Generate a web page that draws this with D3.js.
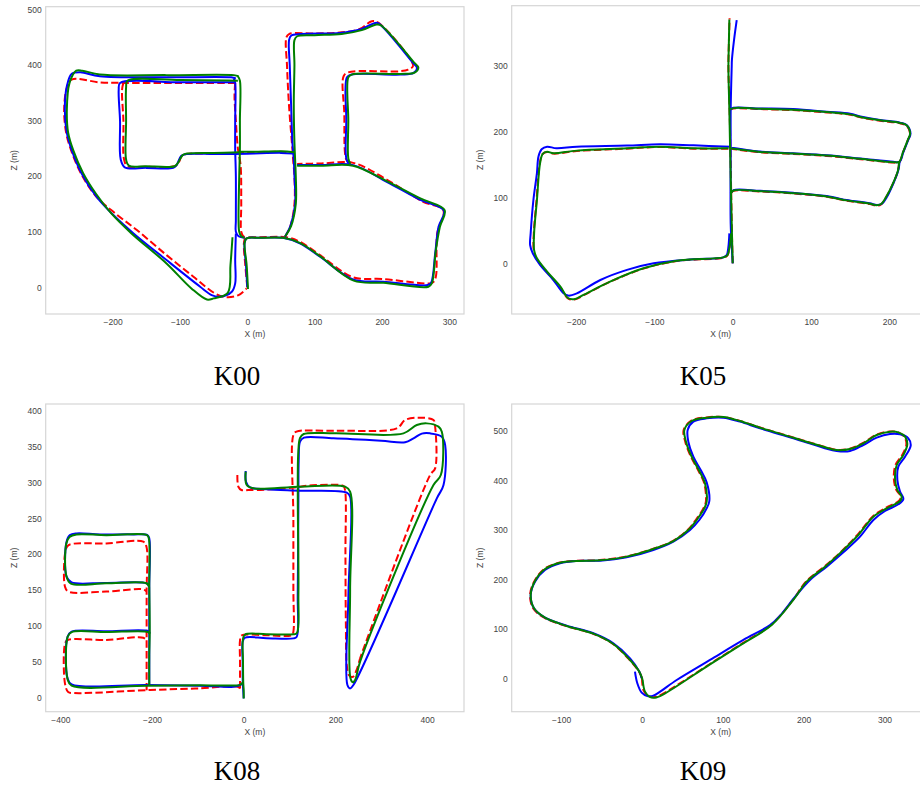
<!DOCTYPE html>
<html>
<head>
<meta charset="utf-8">
<script src="https://cdn.jsdelivr.net/npm/d3@7"></script>
<style>
  body { margin: 0; background: #fff; }
  svg { display: block; }
  .tick text { font-family: "Liberation Sans", Arial, sans-serif; font-size: 8.5px; fill: #444; }
  .axlabel { font-family: "Liberation Sans", Arial, sans-serif; font-size: 8.5px; fill: #444; }
  .title { font-family: "Liberation Serif", "Times New Roman", serif; font-size: 27px; fill: #000; }
</style>
</head>
<body>
<div id="chart"></div>
<script>
// trajectories, [x, z] in metres. red = ground truth (dashed), blue / green = estimates
var k00Red = [
  [[0,0],[-3,40],[-5,80],[-3,88],[20,90],[58,90],[78,82],[108,58],[157,18],[200,15],[271,7],[276,9],[280,19],[282,97],[291,139],[261,154],[207,194],[157,224],[110,223],[74,222]],
  [[56,91],[64,110],[70,150],[70,200],[68,230],[67,248],[62,326],[59,398],[58,450],[62,456],[100,457],[140,459],[167,465],[185,479],[195,476],[244,407],[246,398],[239,392],[227,389],[150,387],[143,380],[144,314],[147,230],[152,224]],
  [[-16,242],[10,243],[50,244],[67,243]],
  [[-18,368],[-19,345],[-17,300],[-14,250],[-10,220],[-9,150],[-9,100],[-6,92],[-2,89]],
  [[-184,368],[-186,356],[-184,300],[-183,230],[-178,218],[-150,217],[-108,218],[-103,222],[-97,237],[-90,240],[-50,241],[-16,242]],
  [[-18,368],[-100,368],[-184,368],[-219,369],[-261,374],[-268,359],[-272,320],[-269,278],[-262,248],[-247,205],[-224,163],[-196,133],[-164,103],[-120,58],[-80,19],[-48,-11],[-31,-18],[-13,-14],[-1,-2]]
];
var k00Blue = [
  [[0,0],[-2,40],[-4,80],[-1,88],[20,89],[53,89],[78,79],[108,55],[157,14],[202,10],[268,4],[273,8],[279,61],[284,109],[292,138],[256,158],[207,190],[157,220],[110,220],[74,220]],
  [[56,91],[64,110],[71,150],[70,200],[69,230],[67,260],[65,330],[63,400],[62,445],[65,453],[80,456],[138,458],[167,464],[190,476],[195,475],[246,404],[252,395],[247,386],[227,383],[155,383],[148,378],[147,300],[147,232],[151,222]],
  [[-18,240],[10,241],[50,242],[68,241]],
  [[-20,376],[-18,368],[-18,300],[-18,250],[-17,200],[-17,120],[-17,100],[-13,92],[-4,89]],
  [[-19,369],[-100,369],[-189,368],[-191,356],[-189,300],[-188,230],[-182,216],[-150,215],[-110,215],[-105,220],[-98,237],[-90,240],[-50,240],[-18,240]],
  [[-17,376],[-24,378],[-120,378],[-219,380],[-248,387],[-261,384],[-268,362],[-271,320],[-268,278],[-261,248],[-246,205],[-224,163],[-199,130],[-169,97],[-120,49],[-70,1],[-53,-14],[-41,-17],[-23,-8],[-18,7],[-18,50],[-17,97]]
];
var k00Green = [
  [[1,-3],[-1,40],[-4,80],[-1,88],[20,89],[53,89],[78,80],[108,56],[158,12],[202,8],[269,1],[274,7],[280,67],[286,109],[293,139],[257,160],[207,191],[157,219],[110,219],[74,219]],
  [[56,91],[65,110],[72,150],[72,200],[71,230],[70,260],[69,330],[70,400],[70,445],[74,452],[100,454],[140,456],[170,463],[192,473],[198,472],[249,403],[254,396],[249,387],[227,384],[155,383],[150,378],[150,300],[150,232],[153,222]],
  [[-11,244],[10,244],[50,245],[70,243]],
  [[-14,380],[-11,372],[-11,300],[-11,250],[-12,200],[-13,120],[-12,100],[-9,92],[-4,89]],
  [[-14,372],[-100,373],[-178,372],[-180,360],[-180,300],[-180,230],[-176,219],[-150,218],[-108,218],[-103,224],[-96,238],[-88,241],[-50,242],[-11,243]],
  [[-13,380],[-20,382],[-120,382],[-219,383],[-245,390],[-254,390],[-264,368],[-268,320],[-266,278],[-258,245],[-244,206],[-224,167],[-202,133],[-172,97],[-120,43],[-83,-2],[-60,-22],[-50,-20],[-29,-10],[-25,40],[-22,90]]
];

var k05Red = [
  [[0,0],[-1,45],[-3,177],[-4,233],[-5.5,298],[-5,330],[-4,372]],
  [[-5.5,174],[-50,174],[-93,176.5],[-135,174],[-199,170.5],[-229,166.5],[-237,169],[-243,165.5],[-246.5,151],[-250.5,96],[-254,45],[-254,20],[-250.5,7],[-237.5,-13],[-220.5,-36],[-210,-53.5],[-201,-54.5],[-190.5,-48.5],[-156.5,-28],[-114,-8],[-71.5,3.5],[-12,8.5],[-7,11.5],[-4,25],[-2,45]],
  [[-4.3,232.5],[0.9,235],[35,234],[77,232.5],[120,229],[150,225.5],[163,221.5],[188,216.5],[213.6,212.5],[222,209],[226.5,196.5],[223.5,186.5],[217.5,168.5],[212.5,153.5],[205,153],[163,158],[120,163],[77,166],[35,168.5],[-3.4,174]],
  [[212.5,153.5],[211,140.5],[204.5,120.5],[196,100.5],[189.5,89.5],[183.5,87.5],[175,90],[154,93.5],[145,95],[120,101],[77,106],[35,109],[1,110],[-2.6,105.5]]
];
var k05Blue = [
  [[0,0],[-1,20],[-2.6,60],[-2.6,177],[-2.6,233],[-1.3,298],[-1,309],[1.7,339],[5.1,369]],
  [[-2.6,177],[-50,179],[-93,180.6],[-135,178.6],[-199,177],[-225,174.5],[-237,177],[-244,173],[-248,162],[-250,137],[-254.5,96],[-258,45.5],[-258.7,27.8],[-255.3,15.2],[-246,-2.5],[-229,-25.3],[-216,-45.5],[-210,-49],[-199,-45.5],[-169,-25.3],[-135,-10],[-101,0],[-50,6],[-12,9],[-7.7,12.6],[-5.5,25.3],[-4.3,45.5]],
  [[-3.4,233],[0.9,236],[35,235],[77,234],[120,230],[150,227],[163,223],[188,217.5],[213.6,213.5],[222,210],[227,197],[224,187],[218,169],[213,154],[205,154],[163,159],[120,164],[77,167],[35,169.5],[-1.3,175.5]],
  [[213,154],[211.5,141.6],[205,121],[197,101],[190,90],[184,88.5],[175,91],[154,94.6],[145.5,96],[120,102],[77,107],[35,110],[1,111],[-2.6,106]]
];
var k05Green = [
  [[0,0],[-1,45.5],[-3.4,177],[-4.3,233],[-5.5,298],[-5,330],[-4.3,370]],
  [[-5.5,174.5],[-50,174.5],[-93,177],[-135,174.5],[-199,171],[-229,167],[-237,169.4],[-242.6,166],[-246,151.7],[-250,96],[-253.6,45.5],[-253.6,20],[-250,7.6],[-237,-12.6],[-220,-35.4],[-210,-53],[-201,-54],[-190.6,-48],[-156.6,-27.8],[-114,-7.6],[-71.5,4],[-12,9],[-7,12],[-4,25],[-2,45.5]],
  [[-4.3,233],[0.9,235.5],[35,234.5],[77,233],[120,229.5],[150,226],[163,222],[188,217],[213.6,213],[222,209.5],[226.5,197],[223.5,187],[217.5,169],[212.5,154],[205,153.5],[163,158.5],[120,163.5],[77,166.5],[35,169],[-3.4,174.5]],
  [[212.5,154],[211,141],[204.5,121],[196,101],[189.5,90],[183.5,88],[175,90.5],[154,94],[145,95.5],[120,101.5],[77,106.5],[35,109.5],[1,110.5],[-2.6,106]]
];

var k08Red = [
  [[-8,13],[-8,50],[-8,80],[-5,86.5],[50,87],[105,87.3],[108.4,92],[108.4,150],[108.4,250],[108.4,366],[115,370.7],[200,372],[334,375.4],[352.3,387],[381.4,390.2],[414.1,387],[417.7,377.7],[417.7,319.6],[406.8,310.3],[254,55]],
  [[-13.8,310.3],[-11.6,294],[-5,289.5],[10.2,289.4],[50,290],[108.4,293],[150,296],[210,296.4],[218,295],[221.5,288],[222,200],[223,100],[225,45],[230,31],[238,29],[246,38],[254,55]],
  [[-8,13],[-15,15.5],[-100,13],[-204.5,10.7],[-370,6.5],[-383,8],[-390,20],[-390,75],[-385,80],[-300,80.5],[-219,83.6],[-212,80]],
  [[-211.8,10.5],[-211.8,80],[-211.8,150],[-212,210],[-219,217.4],[-300,215],[-375.5,214.2],[-385,211],[-390,200],[-390,155],[-383,148],[-300,148],[-219,151],[-212,148]]
];
var k08Blue = [
  [[0,-1],[-1,10],[-2,22],[-2.2,50],[-2.2,78],[2.9,83.6],[50,83],[108.4,82.7],[115.7,85],[117.9,143],[119.4,282.5],[120,330],[123,356.8],[131.7,362.4],[195.8,361.4],[300,358],[352.3,355.9],[370.5,361.4],[388.6,368],[406.8,368.4],[432.3,363.8],[439.6,352.1],[436,296.4],[421.4,277.8],[239.4,17.7],[232.2,13],[226.3,17.7],[228.5,143],[232.2,280],[224.9,285.7],[123,288.5],[50.2,290.4],[13.8,293],[5.1,301],[4.4,315.9]],
  [[-2,20],[-8,17.7],[-22.6,15.3],[-95.3,16.7],[-211.8,17.7],[-375.5,18.6],[-384.3,26.9],[-384.3,85],[-375.5,92],[-300,92.5],[-208.2,92.9],[-205,90]],
  [[-206,17.7],[-206,60],[-206,92],[-206,155],[-206,222],[-210,226.7],[-240.9,227.6],[-313.7,227.6],[-364.6,229],[-379.2,226.7],[-386.5,217.4],[-386.5,168.6],[-375.5,160.7],[-300,160],[-211.8,159.3],[-206,154.7]]
];
var k08Green = [
  [[0,-1],[0,10],[-1,22],[-1.5,50],[-1.5,82],[3,88],[50,88.5],[108,88.3],[116,90],[119.4,143],[118,282],[119,340],[123,362],[131,367.5],[200,368.4],[348.6,368.4],[377.7,380],[399.5,382.3],[425,377.7],[432.3,370.7],[430.1,310.3],[414.1,296.4],[254,50.2],[243.1,24.6],[238,21.4],[233,27],[232.2,150],[232.2,287.1],[221.3,294.1],[123,294.1],[21.1,291.8],[6.6,296.4],[4.4,315]],
  [[-1,22],[-8,18],[-22.6,17],[-95,17.5],[-211.8,16.7],[-375.5,16.7],[-384,25],[-384,85],[-375.5,91.5],[-300,91.5],[-208,91.5],[-205,89]],
  [[-206,17],[-206,60],[-205,92],[-206,155],[-207,222],[-211,226.7],[-300,226.5],[-364.6,227.5],[-380,224],[-387,215],[-387,170],[-377,159],[-300,159.5],[-211.8,159.5],[-207,155]]
];

var k09Red = [
  [[0,0],[2,-25],[8,-36],[16,-38],[26,-31],[84,29],[125,71.5],[160,108.5],[187,159],[203,196],[226,226.5],[247,257],[267,291],[286,328],[302,345],[318,359],[320,368],[314.5,381],[311.5,404],[313.5,431],[322,452],[327,473],[324.5,488],[316.5,497.5],[306.5,499],[290,492.5],[273.5,476],[257,464],[240.5,462],[224,469],[187,487],[146,507],[121,520.5],[100.5,528.5],[80,527.5],[61,521],[51.5,502],[53.5,478.4],[60.5,448],[70,419],[77,394],[79,357],[76,343.7],[67.5,322.5],[58,302.5],[38.5,278],[14,262],[-19,246.5],[-52,239],[-81,237.5],[-101.5,234],[-120.5,221.5],[-133,197],[-138.5,168.5],[-134.5,141],[-120.5,122],[-93.5,105.5],[-60.5,90],[-35.5,69],[-15,36.5],[-3.5,13],[0,0]]
];
var k09Blue = [
  [[-8.7,13.5],[-5.8,-10.1],[-0.4,-29],[6.6,-35.7],[14,-35],[42.9,-3.4],[84.1,37.1],[125.4,77.5],[158.4,107.8],[170.7,126.7],[187.2,160.4],[207.8,198.8],[228.5,225.7],[249.1,254.7],[269.7,286.4],[286.2,320.1],[300.6,338.3],[317.1,351.8],[323.3,362.5],[319.2,377.4],[315.9,400.9],[317.1,427.9],[325.4,448.1],[332.4,470.4],[329.5,485.2],[319.2,493.3],[306.8,493.9],[290.3,486.5],[273.8,471.7],[257.3,459.6],[240.8,459.6],[224.3,466.3],[187.2,485.2],[146,505.4],[121.2,518.9],[100.6,527],[80,525.6],[63.5,518.9],[56.5,502],[57.3,478.4],[63.5,448.1],[72.6,421.2],[80,396.2],[83.3,358.5],[80,343.7],[70.9,320.1],[59.4,299.9],[38.8,276.3],[14,259.4],[-19,244.6],[-52,237.9],[-80.8,237.2],[-101.4,232.5],[-120,219],[-132.4,195.4],[-137.7,168.5],[-133.6,141.5],[-120,122.6],[-93.2,106.5],[-60.2,91],[-35.5,70.8],[-14.8,40.4],[-3.3,13.5],[-0.4,0]]
];
var k09Green = [
  [[0.8,-3.4],[3.7,-27],[9.1,-37.1],[16.1,-39.1],[26.4,-32.3],[84.1,28.3],[125.4,70.8],[160.4,107.8],[187.2,158.4],[203.7,195.4],[226.4,225.7],[247,256.1],[267.6,289.8],[286.2,326.8],[302.7,343.7],[319.2,358.5],[321.2,367.3],[315.9,380.7],[313,404.3],[315.1,431.3],[323.3,451.5],[328.2,473],[325.4,488.5],[317.1,497.3],[306.8,498.7],[290.3,491.9],[273.8,475.1],[257.3,463.6],[240.8,461.6],[224.3,468.3],[187.2,486.5],[146,506.7],[121.2,520.2],[100.6,528.3],[80,527],[61.4,520.2],[52.4,502],[54.4,478.4],[61.4,448.1],[70.9,419.1],[77.9,394.2],[80,357.1],[77.1,343.7],[68.5,322.1],[58.6,301.9],[38.8,277.6],[14,261.5],[-19,246],[-52,238.5],[-80.8,237.2],[-101.4,233.8],[-120,221],[-132.4,196.8],[-137.7,168.5],[-133.6,141.5],[-120,122.6],[-93.2,105.8],[-60.2,90.3],[-35.5,69.4],[-14.8,37.1],[-3.3,13.5],[0.8,-3.4]]
];

// tick values per panel
var k00XTicks = [-200, -100, 0, 100, 200, 300], k00YTicks = [0, 100, 200, 300, 400, 500];
var k05XTicks = [-200, -100, 0, 100, 200], k05YTicks = [0, 100, 200, 300];
var k08XTicks = [-400, -200, 0, 200, 400], k08YTicks = [0, 50, 100, 150, 200, 250, 300, 350, 400];
var k09XTicks = [-100, 0, 100, 200, 300], k09YTicks = [0, 100, 200, 300, 400, 500];
var titles = ["K00", "K05", "K08", "K09"];

var width = 920, height = 787;

// layout of each panel (pixels) and its visible data range
var panels = [
  {title: titles[0], left: 45.7, top: 6.7, w: 418.3, h: 307.3, xd: [-299.4, 321.8], yd: [-48.1, 505.2],
   xt: k00XTicks, yt: k00YTicks, red: k00Red, blue: k00Blue, green: k00Green, tx: 237, ty: 385, zx: 17},
  {title: titles[1], left: 511.7, top: 5.7, w: 418, h: 308.3, xd: [-282.2, 251.5], yd: [-76.9, 390.9],
   xt: k05XTicks, yt: k05YTicks, red: k05Red, blue: k05Blue, green: k05Green, tx: 703, ty: 385, zx: 483},
  {title: titles[2], left: 45.7, top: 404, w: 418.3, h: 307.7, xd: [-432, 480.7], yd: [-19.5, 409.3],
   xt: k08XTicks, yt: k08YTicks, red: k08Red, blue: k08Blue, green: k08Green, tx: 237, ty: 780, zx: 17},
  {title: titles[3], left: 511.7, top: 404, w: 418, h: 307.7, xd: [-161.2, 355.9], yd: [-67.5, 554.6],
   xt: k09XTicks, yt: k09YTicks, red: k09Red, blue: k09Blue, green: k09Green, tx: 703, ty: 780, zx: 483}
];

var svg = d3.select("#chart").append("svg")
    .attr("width", width)
    .attr("height", height);

panels.forEach(function(p) {
    var x = d3.scaleLinear().domain(p.xd).range([0, p.w]);
    var y = d3.scaleLinear().domain(p.yd).range([p.h, 0]);

    var g = svg.append("g").attr("transform", "translate(" + p.left + "," + p.top + ")");

    g.append("rect")
        .attr("width", p.w)
        .attr("height", p.h)
        .attr("fill", "#fff")
        .attr("stroke", "#d6d6d6")
        .attr("stroke-width", 1.2);

    var xAxis = g.append("g")
        .attr("transform", "translate(0," + p.h + ")")
        .call(d3.axisBottom(x).tickValues(p.xt).tickSize(0).tickPadding(5));
    var yAxis = g.append("g")
        .call(d3.axisLeft(y).tickValues(p.yt).tickSize(0).tickPadding(4));
    xAxis.select(".domain").remove();
    yAxis.select(".domain").remove();

    g.append("text")
        .attr("class", "axlabel")
        .attr("x", p.w / 2)
        .attr("y", p.h + 23)
        .attr("text-anchor", "middle")
        .text("X (m)");

    // Z label sits at a fixed page x
    g.append("text")
        .attr("class", "axlabel")
        .attr("transform", "translate(" + (p.zx - p.left) + "," + (p.h / 2) + ") rotate(-90)")
        .attr("text-anchor", "middle")
        .text("Z (m)");

    var line = d3.line()
        .x(function(d) { return x(d[0]); })
        .y(function(d) { return y(d[1]); })
        .curve(d3.curveCatmullRom.alpha(0.5));

    var plot = g.append("g");

    plot.selectAll(".red").data(p.red).enter().append("path")
        .attr("d", line)
        .attr("fill", "none")
        .attr("stroke", "#ff0000")
        .attr("stroke-width", 2)
        .attr("stroke-dasharray", "7.4,3.2");

    plot.selectAll(".blue").data(p.blue).enter().append("path")
        .attr("d", line)
        .attr("fill", "none")
        .attr("stroke", "#0000ff")
        .attr("stroke-width", 2);

    plot.selectAll(".green").data(p.green).enter().append("path")
        .attr("d", line)
        .attr("fill", "none")
        .attr("stroke", "#008000")
        .attr("stroke-width", 2);

    svg.append("text")
        .attr("class", "title")
        .attr("x", p.tx)
        .attr("y", p.ty)
        .attr("text-anchor", "middle")
        .text(p.title);
});
</script>
</body>
</html>
